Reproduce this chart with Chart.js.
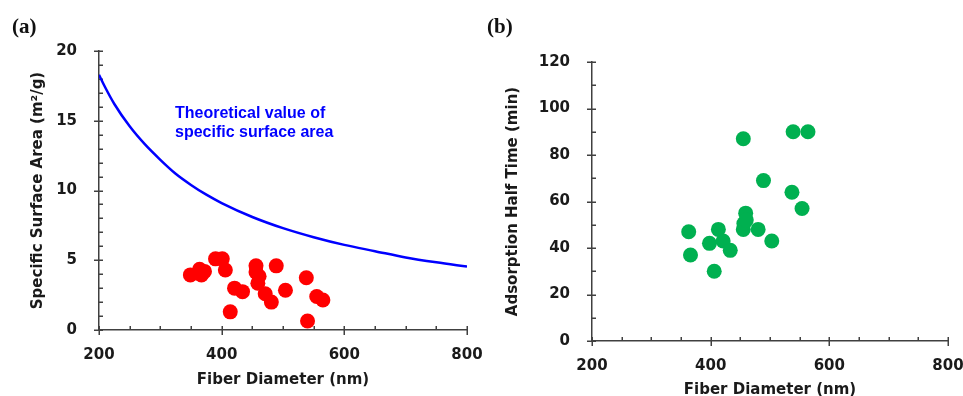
<!DOCTYPE html>
<html>
<head>
<meta charset="utf-8">
<script src="https://cdn.jsdelivr.net/npm/chart.js"></script>
<style>
body { margin: 0; background: #fff; }
#wrap { position: relative; width: 963px; height: 396px; overflow: hidden; background: #fff; }
canvas { position: absolute; top: 0; }
.panel { position: absolute; top: 16px; font: bold 21px "Liberation Serif", serif; line-height: 21px; color: #111; }
</style>
</head>
<body>
<div id="wrap">
    <canvas id="chartA" width="490" height="396" style="left:0"></canvas>
    <canvas id="chartB" width="483" height="396" style="left:480px"></canvas>
    <div class="panel" style="left:12px">(a)</div>
    <div class="panel" style="left:487px">(b)</div>
</div>
<script>
// ---------- data ----------
// (a) theoretical curve
const curveDiameter = [200, 210, 225, 250, 275, 300, 325, 350, 375, 400, 450, 500, 550, 600, 650, 700, 750, 800];
const curveArea = [18.3, 17.4, 16.2, 14.6, 13.3, 12.2, 11.2, 10.4, 9.7, 9.1, 8.1, 7.3, 6.65, 6.1, 5.65, 5.2, 4.85, 4.55];
// (a) measured specific surface area
const areaDiameter = [349, 364, 367, 372, 390, 401, 406, 414, 421, 434, 456, 456, 461, 459, 471, 481, 489, 504, 538, 540, 555, 565];
const measuredArea = [3.95, 4.35, 3.95, 4.2, 5.1, 5.1, 4.3, 1.3, 3.0, 2.75, 4.6, 4.15, 3.85, 3.35, 2.6, 2.0, 4.6, 2.85, 3.75, 0.65, 2.4, 2.15];
// (b) adsorption half time
const timeDiameter = [363, 366, 406, 398, 413, 421, 433, 455, 455, 456, 459, 460, 480, 489, 503, 537, 539, 554, 564];
const halfTime = [47, 37, 30, 42, 48, 43, 39, 87, 48, 50.5, 55, 52, 48, 69, 43, 64, 90, 57, 90];

const toPoints = (xs, ys) => xs.map((x, i) => ({ x: x, y: ys[i] }));

const axisColor = '#404040';
const textColor = '#1a1a1a';
const tickFont = { family: '"DejaVu Sans", Verdana, sans-serif', size: 15, weight: 'bold' };

// axis tick marks: majors cross the axis, minors point inwards
const axisTicks = {
    id: 'axisTicks',
    beforeDatasetsDraw(chart, args, opts) {
        const { ctx, chartArea: a, scales: { x, y } } = chart;
        ctx.save();
        ctx.strokeStyle = axisColor;
        ctx.lineWidth = 1.5;
        ctx.beginPath();
        for (let v = x.min; v <= x.max; v += opts.xMinor) {
            const px = Math.round(x.getPixelForValue(v)) + 0.25;
            const major = v % opts.xMajor === 0;
            ctx.moveTo(px, a.bottom + (major ? 5 : 0));
            ctx.lineTo(px, a.bottom - 4);
        }
        for (let v = y.min; v <= y.max; v += opts.yMinor) {
            const py = Math.round(y.getPixelForValue(v)) + 0.25;
            const major = v % opts.yMajor === 0;
            ctx.moveTo(a.left - (major ? 5 : 0), py);
            ctx.lineTo(a.left + 4, py);
        }
        ctx.stroke();
        ctx.restore();
    }
};

// blue label next to the theoretical curve
const curveLabel = {
    id: 'curveLabel',
    afterDatasetsDraw(chart, args, opts) {
        if (!opts.lines) return;
        const ctx = chart.ctx;
        ctx.save();
        ctx.fillStyle = '#0000ff';
        ctx.font = 'bold 16px "Liberation Sans", Arial, sans-serif';
        ctx.textBaseline = 'middle';
        opts.lines.forEach((t, i) => ctx.fillText(t, opts.x, opts.y + i * 19));
        ctx.restore();
    }
};

function xAxis(height, titlePad) {
    return {
        type: 'linear',
        min: 200, max: 800,
        grid: { display: false },
        border: { display: true, color: axisColor, width: 1.5 },
        ticks: { stepSize: 200, color: textColor, font: tickFont, padding: 8, maxRotation: 0, autoSkip: false },
        title: { display: true, text: 'Fiber Diameter (nm)', color: textColor, font: tickFont, padding: { top: 0, bottom: titlePad } },
        afterFit(scale) { scale.height = height; scale.paddingLeft = 0; scale.paddingRight = 0; }
    };
}

function yAxis(max, step, width, label) {
    return {
        min: 0, max: max,
        grid: { display: false },
        border: { display: true, color: axisColor, width: 1.5 },
        ticks: { stepSize: step, color: textColor, font: tickFont, padding: 14 },
        title: { display: true, text: label, color: textColor, font: tickFont, padding: 0 },
        afterFit(scale) { scale.width = width; scale.paddingTop = 0; scale.paddingBottom = 0; }
    };
}

new Chart(document.getElementById('chartA'), {
    type: 'scatter',
    data: {
        datasets: [{
            data: toPoints(curveDiameter, curveArea),
            showLine: true,
            borderColor: '#0000ff',
            borderWidth: 2.5,
            pointRadius: 0,
            cubicInterpolationMode: 'monotone'
        }, {
            data: toPoints(areaDiameter, measuredArea),
            backgroundColor: '#ff0000',
            borderWidth: 0,
            pointRadius: 7.5
        }]
    },
    options: {
        responsive: false,
        animation: false,
        layout: { padding: { left: 29, top: 51, right: 23, bottom: 0 } },
        scales: {
            x: xAxis(66, 7),
            y: yAxis(20, 5, 70, 'Specific Surface Area (m\u00b2/g)')
        },
        plugins: {
            legend: { display: false },
            tooltip: { enabled: false },
            axisTicks: { xMinor: 50, xMajor: 200, yMinor: 1, yMajor: 5 },
            curveLabel: { lines: ['Theoretical value of', 'specific surface area'], x: 175, y: 114 }
        }
    },
    plugins: [axisTicks, curveLabel]
});

new Chart(document.getElementById('chartB'), {
    type: 'scatter',
    data: {
        datasets: [{
            data: toPoints(timeDiameter, halfTime),
            backgroundColor: '#00b050',
            borderWidth: 0,
            pointRadius: 7.5
        }]
    },
    options: {
        responsive: false,
        animation: false,
        layout: { padding: { left: 24, top: 62, right: 15, bottom: 0 } },
        scales: {
            x: xAxis(55, -3),
            y: yAxis(120, 20, 88, 'Adsorption Half Time (min)')
        },
        plugins: {
            legend: { display: false },
            tooltip: { enabled: false },
            axisTicks: { xMinor: 50, xMajor: 200, yMinor: 10, yMajor: 20 }
        }
    },
    plugins: [axisTicks, curveLabel]
});
</script>
</body>
</html>
